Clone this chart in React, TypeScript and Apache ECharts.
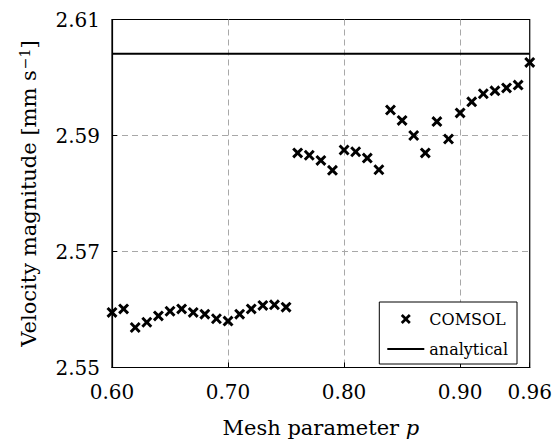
import React, { useEffect, useRef } from "react";
import * as echarts from "echarts";

const meshParameter = [
  0.6, 0.61, 0.62, 0.63, 0.64, 0.65, 0.66, 0.67, 0.68, 0.69, 0.7, 0.71, 0.72,
  0.73, 0.74, 0.75, 0.76, 0.77, 0.78, 0.79, 0.8, 0.81, 0.82, 0.83, 0.84, 0.85,
  0.86, 0.87, 0.88, 0.89, 0.9, 0.91, 0.92, 0.93, 0.94, 0.95, 0.96,
];
const comsolVelocity = [
  2.5595, 2.5601, 2.5569, 2.5578, 2.5589, 2.5597, 2.5601, 2.5595, 2.5592,
  2.5584, 2.558, 2.5592, 2.5601, 2.5607, 2.5608, 2.5604, 2.587, 2.5866,
  2.5857, 2.584, 2.5875, 2.5872, 2.5861, 2.5841, 2.5944, 2.5926, 2.59,
  2.587, 2.5924, 2.5894, 2.5939, 2.5958, 2.5972, 2.5977, 2.5982, 2.5987,
  2.6026,
];
const analyticalVelocity = 2.6041;
const xRange = [0.6, 0.96];
const yBase = 2.55; // axis starts here; plotted as offset so ticks fall on 2.55, 2.57, ...
const yTop = 2.61;

const FONT = "DejaVu Serif";
const X_MARK =
  "path://M0,1.9L1.9,0L5,3.1L8.1,0L10,1.9L6.9,5L10,8.1L8.1,10L5,6.9L1.9,10L0,8.1L3.1,5Z";
const LINE_ICON = "path://M0,0H37V2H0Z";

export default function App() {
  const ref = useRef<HTMLDivElement>(null);
  useEffect(() => {
    if (!ref.current) return;
    const chart = echarts.init(ref.current, null, { renderer: "svg" });
    const off = (v: number) => +(v - yBase).toFixed(6);
    chart.setOption({
      animation: false,
      backgroundColor: "#fff",
      textStyle: { fontFamily: FONT },
      grid: {
        left: 112,
        right: 23.5,
        top: 19.5,
        bottom: 76.5,
        show: true,
        borderColor: "#000",
        borderWidth: 1.2,
        containLabel: false,
      },
      legend: {
        orient: "vertical",
        right: 38,
        top: 302,
        align: "left",
        backgroundColor: "#fff",
        borderColor: "#000",
        borderWidth: 1,
        padding: [9, 9, 7, 8],
        itemWidth: 37,
        itemHeight: 10,
        itemGap: 14,
        textStyle: { fontFamily: FONT, fontSize: 16, color: "#000" },
        data: [
          { name: "COMSOL", icon: X_MARK, itemStyle: { color: "#000", opacity: 1 } },
          { name: "analytical", icon: LINE_ICON, itemStyle: { color: "#000" } },
        ],
      },
      xAxis: {
        type: "value",
        min: xRange[0],
        max: xRange[1],
        interval: 0.1,
        name: "Mesh parameter {i|p}",
        nameLocation: "middle",
        nameGap: 50,
        nameTextStyle: {
          fontFamily: FONT,
          fontSize: 21,
          color: "#000",
          rich: {
            i: { fontFamily: FONT, fontSize: 21, fontStyle: "italic", color: "#000" },
          },
        },
        axisLine: { show: true, lineStyle: { color: "#000", width: 1.2 } },
        axisTick: { show: true, inside: true, length: 5, lineStyle: { color: "#000" } },
        axisLabel: {
          fontFamily: FONT,
          fontSize: 20,
          color: "#000",
          margin: 14,
          formatter: (v: number) => v.toFixed(2),
        },
        splitLine: {
          show: true,
          showMinLine: false,
          showMaxLine: false,
          lineStyle: { color: "#a8a8a8", type: [6, 4], width: 1 },
        },
      },
      yAxis: {
        type: "value",
        min: 0,
        max: +(yTop - yBase).toFixed(6),
        interval: 0.02,
        name: "Velocity magnitude [mm s{sup|−1}]",
        nameLocation: "middle",
        nameRotate: 90,
        nameGap: 73,
        nameTextStyle: {
          fontFamily: FONT,
          fontSize: 21,
          color: "#000",
          rich: {
            sup: {
              fontFamily: FONT,
              fontSize: 14,
              color: "#000",
              verticalAlign: "top",
              padding: [0, 0, 0, 1],
            },
          },
        },
        axisLine: { show: true, lineStyle: { color: "#000", width: 1.2 } },
        axisTick: { show: true, inside: true, length: 5, lineStyle: { color: "#000" } },
        axisLabel: {
          fontFamily: FONT,
          fontSize: 20,
          color: "#000",
          margin: 12,
          formatter: (v: number) => (yBase + v).toFixed(2),
        },
        splitLine: {
          show: true,
          showMinLine: false,
          showMaxLine: false,
          lineStyle: { color: "#a8a8a8", type: [6, 4], width: 1 },
        },
      },
      series: [
        {
          name: "COMSOL",
          type: "scatter",
          symbol: X_MARK,
          symbolSize: 11,
          itemStyle: { color: "#000", opacity: 1 },
          data: meshParameter.map((p, i) => [p, off(comsolVelocity[i])]),
          z: 4,
        },
        {
          name: "analytical",
          type: "line",
          symbol: "none",
          lineStyle: { color: "#000", width: 2 },
          itemStyle: { color: "#000" },
          data: [
            [xRange[0], off(analyticalVelocity)],
            [xRange[1], off(analyticalVelocity)],
          ],
          z: 3,
        },
      ],
    });
    return () => chart.dispose();
  }, []);
  return (
    <div
      ref={ref}
      style={{ position: "absolute", left: 0, top: 0, width: 555, height: 444 }}
    />
  );
}
